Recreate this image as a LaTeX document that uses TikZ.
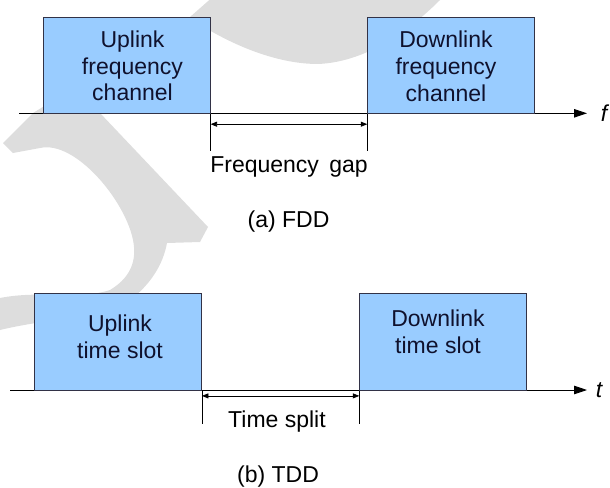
\documentclass[tikz,border=0pt]{standalone}
\usepackage{fontspec}
\setmainfont{Liberation Sans}
\usetikzlibrary{arrows.meta}
\definecolor{boxfill}{RGB}{153,204,255}
\definecolor{boxline}{RGB}{50,50,70}
\definecolor{boxtext}{RGB}{15,17,45}
\definecolor{wm}{RGB}{221,221,221}
\begin{document}
\begin{tikzpicture}[x=1pt,y=-1pt,
  box/.style={draw=boxline, fill=boxfill, line width=0.9pt, inner sep=0pt, minimum width=167pt, anchor=north west},
  boxtxt/.style={text=boxtext, align=center, inner sep=0pt, anchor=north, font=\fontsize{23}{26.8}\selectfont},
  lbl/.style={inner sep=0pt, anchor=base, font=\fontsize{23}{27}\selectfont},
  axis/.style={line width=0.9pt, -{Triangle[length=13pt,width=8.5pt]}},
  gaparrow/.style={line width=0.8pt, {Triangle[length=6.5pt,width=5pt]}-{Triangle[length=6.5pt,width=5pt]}},
  tickline/.style={line width=0.8pt},
  axlbl/.style={inner sep=0pt, font=\fontsize{23}{27}\selectfont\itshape}]
\useasboundingbox (0,0) rectangle (610,487);
% faint watermark
\begin{scope}
\clip (0,0) rectangle (610,487);
\fill[wm] (215,-5) -- (445,-5) -- (440,0) .. controls (415,25) and (370,62) .. (318,64)
  .. controls (280,64) and (240,48) .. (209,30)
  .. controls (170,55) and (130,85) .. (100,113) -- (208,227) -- (200,242) -- (167,243)
  .. controls (163,265) and (150,285) .. (130,300)
  .. controls (100,318) and (50,318) .. (0,330) -- (-5,330) -- (-5,298) -- (0,298)
  .. controls (40,290) and (80,300) .. (110,290)
  .. controls (135,275) and (136,255) .. (133,240)
  .. controls (125,200) and (75,140) .. (40,148) -- (13,153) -- (3,143) -- (33,113) -- (190,17) -- cycle;
\end{scope}
% (a) FDD
\coordinate (fa) at (19,113.3);
\coordinate (fe) at (587,113.3);
\draw[axis] (fa) -- (fe);
\node[axlbl] (flbl) at (604,113) {f};
\node[box, minimum height=96pt] (ulf) at (42.7,17.3) {};
\node[box, minimum height=96pt] (dlf) at (367.3,17.3) {};
\node[boxtxt] (ulft) at (132.5,30.5) {Uplink\\frequency\\channel};
\node[boxtxt] (dlft) at (446,31) {Downlink\\frequency\\channel};
\draw[tickline] (ulf.south east) -- ++(0,37);
\draw[tickline] (dlf.south west) -- ++(0,37);
\draw[gaparrow] ([yshift=-10pt]ulf.south east) -- ([yshift=-10pt]dlf.south west);
\node[lbl] (fgap) at (289,172) {Frequency\hspace{4pt} gap};
\node[lbl] (fdd) at (288.5,227) {(a) FDD};
% (b) TDD
\coordinate (ta) at (10,390);
\coordinate (te) at (587,390);
\draw[axis] (ta) -- (te);
\node[axlbl] (tlbl) at (599,390) {t};
\node[box, minimum height=97pt] (uts) at (34,293) {};
\node[box, minimum height=97pt] (dts) at (359.3,293) {};
\node[boxtxt] (utst) at (120,314.5) {Uplink\\time slot};
\node[boxtxt] (dtst) at (438,309.5) {Downlink\\time slot};
\draw[tickline] (uts.south east) -- ++(0,33);
\draw[tickline] (dts.south west) -- ++(0,33);
\draw[gaparrow] ([yshift=-5pt]uts.south east) -- ([yshift=-5pt]dts.south west);
\node[lbl] (tsplit) at (277,427) {Time split};
\node[lbl] (tdd) at (278,482) {(b) TDD};
\end{tikzpicture}
\end{document}
